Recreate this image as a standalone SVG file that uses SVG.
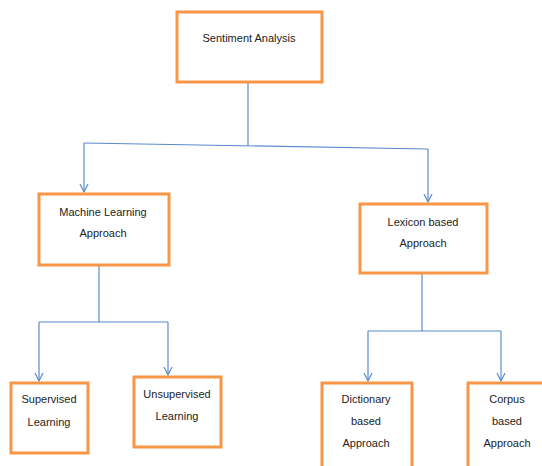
<svg xmlns="http://www.w3.org/2000/svg" width="542" height="466" viewBox="0 0 542 466">
<defs>
<style>
.box{fill:#fff;stroke:#F79646;stroke-width:3}
.t{font-family:"Liberation Sans",Arial,sans-serif;font-size:11px;fill:#222;text-anchor:middle}
.c{fill:none;stroke:#5B8BCB;stroke-width:1.2}
</style>
<marker id="ah" markerWidth="10" markerHeight="10" refX="8" refY="5" orient="auto" markerUnits="userSpaceOnUse">
<path d="M0,1 L8,5 L0,9" fill="none" stroke="#5B8BCB" stroke-width="1.2"/>
</marker>
</defs>
<rect width="542" height="466" fill="#fff"/>
<g id="connectors">
<path class="c" d="M248,83 V146"/>
<path class="c" d="M84,143 L428,149"/>
<path class="c" d="M84,143 V192" marker-end="url(#ah)"/>
<path class="c" d="M428,149 V202" marker-end="url(#ah)"/>
<path class="c" d="M99,266 V322"/>
<path class="c" d="M39,322 H168"/>
<path class="c" d="M39,322 V381" marker-end="url(#ah)"/>
<path class="c" d="M168,322 V375" marker-end="url(#ah)"/>
<path class="c" d="M422,274 V331"/>
<path class="c" d="M368,331 H501"/>
<path class="c" d="M368,331 V381" marker-end="url(#ah)"/>
<path class="c" d="M501,331 V381" marker-end="url(#ah)"/>
</g>
<g id="sentiment">
<rect class="box" x="177" y="12" width="145" height="70"/>
<text class="t" x="249" y="42">Sentiment Analysis</text>
</g>
<g id="ml">
<rect class="box" x="39" y="194" width="130" height="71"/>
<text class="t" x="103" y="216">Machine Learning</text>
<text class="t" x="103" y="237">Approach</text>
</g>
<g id="lexicon">
<rect class="box" x="360" y="204" width="127" height="69"/>
<text class="t" x="423" y="226">Lexicon based</text>
<text class="t" x="423" y="247">Approach</text>
</g>
<g id="supervised">
<rect class="box" x="11" y="383" width="77" height="70"/>
<text class="t" x="49" y="403">Supervised</text>
<text class="t" x="49" y="426">Learning</text>
</g>
<g id="unsupervised">
<rect class="box" x="134" y="377" width="87" height="70"/>
<text class="t" x="177" y="398">Unsupervised</text>
<text class="t" x="177" y="420">Learning</text>
</g>
<g id="dictionary">
<rect class="box" x="322" y="383" width="90" height="90"/>
<text class="t" x="366" y="403">Dictionary</text>
<text class="t" x="366" y="425">based</text>
<text class="t" x="366" y="447">Approach</text>
</g>
<g id="corpus">
<rect class="box" x="468" y="383" width="90" height="90"/>
<text class="t" x="507" y="403">Corpus</text>
<text class="t" x="507" y="425">based</text>
<text class="t" x="507" y="447">Approach</text>
</g>
</svg>
